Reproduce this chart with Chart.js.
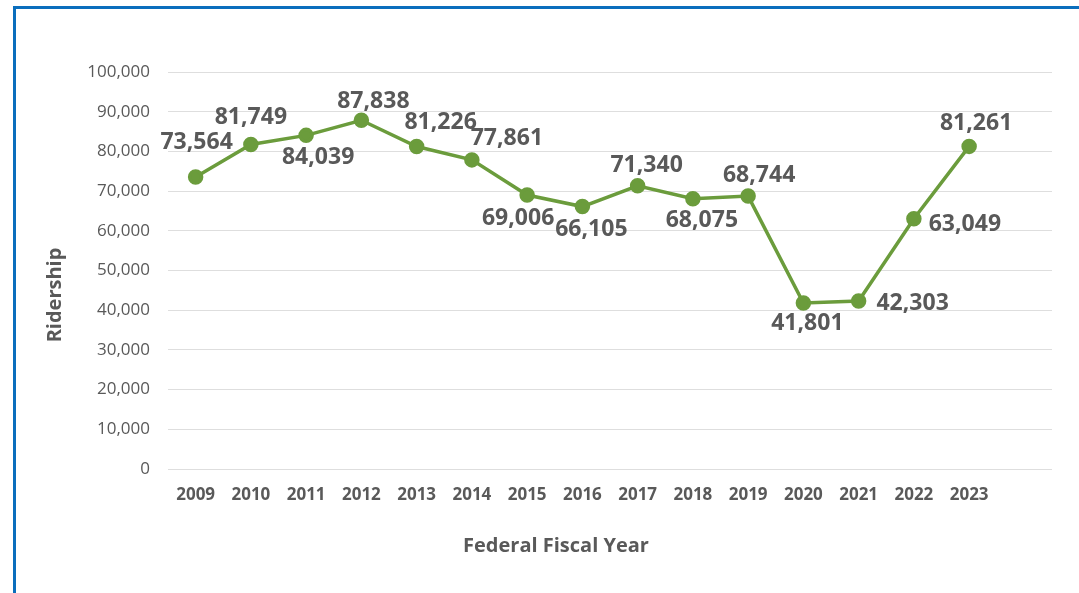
<!DOCTYPE html>
<html>
<head>
<meta charset="utf-8">
<script src="https://cdn.jsdelivr.net/npm/chart.js@4/dist/chart.umd.min.js"></script>
<style>
  html, body { margin: 0; padding: 0; background: #fff; overflow: hidden; }
  #frame {
    position: absolute; left: 13px; top: 6px; width: 1100px; height: 620px;
    border-left: 3px solid #0a6ebd; border-top: 3px solid #0a6ebd;
  }
  #wrap { position: absolute; left: 0; top: 0; width: 1079px; height: 593px; }
</style>
</head>
<body>
<div id="frame"></div>
<div id="wrap"><canvas id="chart"></canvas></div>
<script>
// Annual ridership by federal fiscal year
const years = ['2009','2010','2011','2012','2013','2014','2015','2016','2017','2018','2019','2020','2021','2022','2023',''];
const ridership = [73564, 81749, 84039, 87838, 81226, 77861, 69006, 66105, 71340, 68075, 68744, 41801, 42303, 63049, 81261, null];
const yTicks = [0, 10000, 20000, 30000, 40000, 50000, 60000, 70000, 80000, 90000, 100000];
const xTitle = 'Federal Fiscal Year';
const yTitle = 'Ridership';

const textColor = '#595959';
const lineColor = '#6b9c3c';

// Value labels next to each point; offsets in pixels from the point centre
const labelOffsets = [
  [1, -34], [0, -27], [12, 22], [12, -19], [24, -24], [35, -21], [-9, 23], [9, 23],
  [9, -20], [9, 22], [11, -21], [4, 20], [54, 2], [51, 6], [7, -23]
];

const valueLabels = {
  id: 'valueLabels',
  afterDatasetsDraw(chart) {
    const ctx = chart.ctx;
    const meta = chart.getDatasetMeta(0);
    const data = chart.data.datasets[0].data;
    ctx.save();
    ctx.font = 'bold 23px "Open Sans"';
    ctx.fillStyle = textColor;
    ctx.textAlign = 'center';
    ctx.textBaseline = 'middle';
    meta.data.forEach((pt, i) => {
      const v = data[i];
      if (v == null) return;
      const off = labelOffsets[i] || [0, -22];
      ctx.fillText(v.toLocaleString('en-US'), pt.x + off[0], pt.y + off[1]);
    });
    ctx.restore();
  }
};

// Axis titles, placed below / beside the plot area
const axisTitles = {
  id: 'axisTitles',
  afterDraw(chart) {
    const ctx = chart.ctx;
    const area = chart.chartArea;
    ctx.save();
    ctx.font = 'bold 20px "Open Sans"';
    ctx.fillStyle = textColor;
    ctx.textAlign = 'center';
    ctx.textBaseline = 'middle';
    ctx.fillText(xTitle, area.left + 388, area.bottom + 77);
    ctx.translate(55, area.top + 223);
    ctx.rotate(-Math.PI / 2);
    ctx.fillText(yTitle, 0, 0);
    ctx.restore();
  }
};

new Chart(document.getElementById('chart'), {
  type: 'line',
  data: {
    labels: years,
    datasets: [{
      data: ridership,
      borderColor: lineColor,
      backgroundColor: lineColor,
      borderWidth: 3.5,
      pointRadius: 6,
      pointHoverRadius: 6,
      pointBackgroundColor: lineColor,
      pointBorderColor: lineColor,
      tension: 0,
      fill: false
    }]
  },
  options: {
    responsive: true,
    maintainAspectRatio: false,
    animation: false,
    events: [],
    layout: { padding: { left: 36, right: 27, top: 72, bottom: 26 } },
    plugins: {
      legend: { display: false },
      tooltip: { enabled: false }
    },
    scales: {
      x: {
        type: 'category',
        offset: true,
        grid: { display: false, drawTicks: false },
        border: { display: false },
        ticks: {
          color: textColor,
          font: { family: '"Open Sans"', size: 17, weight: 'bold' },
          padding: 16,
          maxRotation: 0,
          autoSkip: false
        },
        afterFit(scale) { scale.height = 593 - 469 - 26; }
      },
      y: {
        min: 0,
        max: 100000,
        afterBuildTicks(scale) { scale.ticks = yTicks.map(v => ({ value: v })); },
        grid: { color: '#dedede', lineWidth: 1, drawTicks: false },
        border: { display: false },
        ticks: {
          color: textColor,
          font: { family: '"Open Sans"', size: 17 },
          padding: 18,
          callback: v => v.toLocaleString('en-US')
        },
        afterFit(scale) { scale.width = 168 - 36; }
      }
    }
  },
  plugins: [valueLabels, axisTitles]
});
</script>
</body>
</html>
